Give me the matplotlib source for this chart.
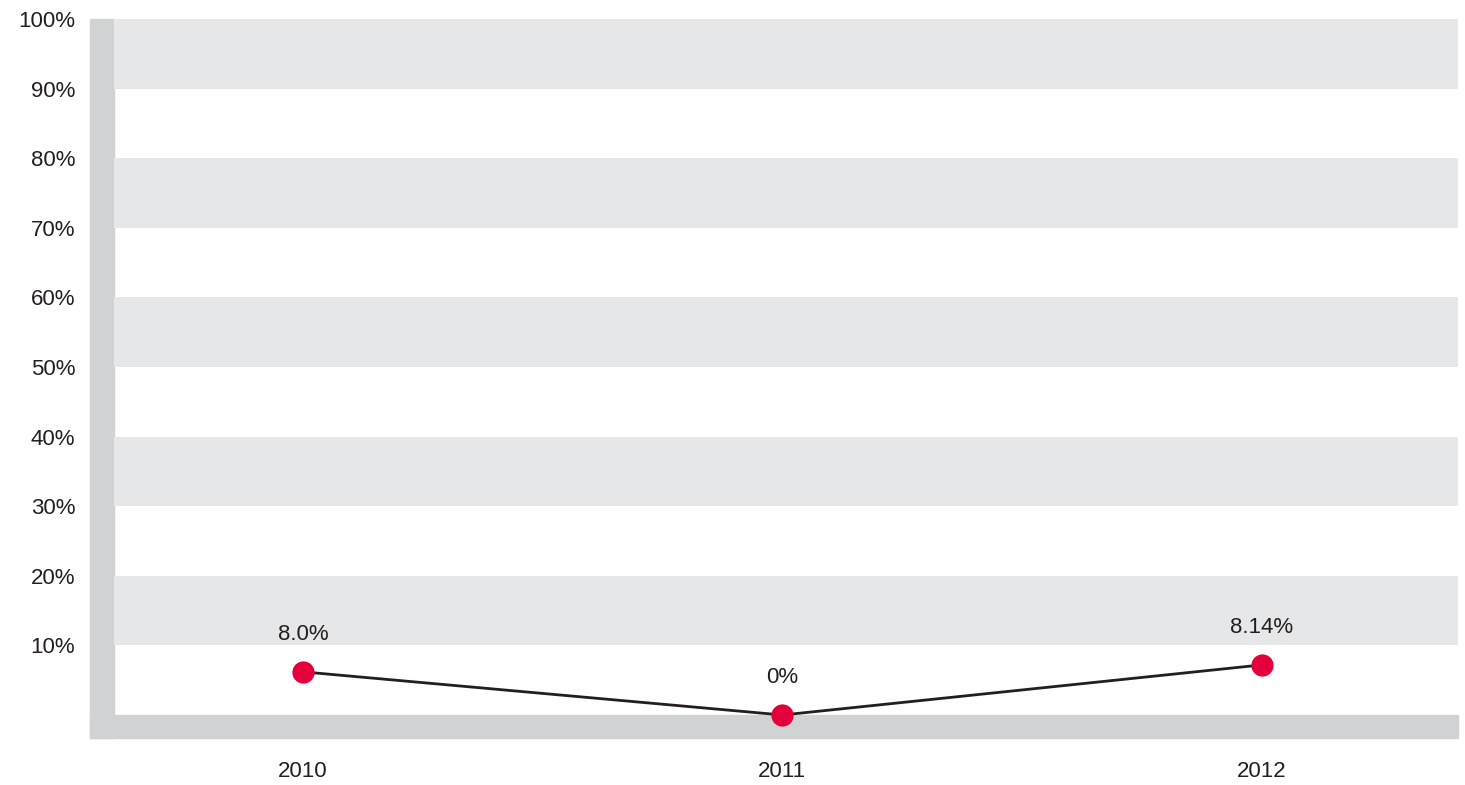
import matplotlib.pyplot as plt
from matplotlib.patches import Rectangle

years = ['2010', '2011', '2012']
values = [6.2, 0.0, 7.2]
value_labels = ['8.0%', '0%', '8.14%']
y_ticks = [10, 20, 30, 40, 50, 60, 70, 80, 90, 100]
y_tick_labels = ['10%', '20%', '30%', '40%', '50%', '60%', '70%', '80%', '90%', '100%']

plt.rcParams['font.family'] = ['Liberation Sans', 'DejaVu Sans']
text_col = '#231f20'
band_col = '#e6e7e8'
frame_col = '#d1d2d4'

W, H = 1465, 785
fig = plt.figure(figsize=(W / 100, H / 100), dpi=100)

# axes area in pixels
x0, x1 = 114, 1458
y_top, y_bot = 19, 715
ax = fig.add_axes([x0 / W, (H - y_bot) / H, (x1 - x0) / W, (y_bot - y_top) / H])
ax.set_zorder(2)

# gray frame on the left and bottom
fig.patches.append(Rectangle((90 / W, (H - 738) / H), 24 / W, (738 - 19) / H,
                             transform=fig.transFigure, color=frame_col, zorder=-1))
fig.patches.append(Rectangle((90 / W, (H - 738) / H), (1458 - 90) / W, 23 / H,
                             transform=fig.transFigure, color=frame_col, zorder=-1))

# alternating bands
for lo in range(0, 100, 20):
    ax.axhspan(lo + 10, lo + 20, color=band_col, lw=0, zorder=0)

x = list(range(len(years)))
ax.plot(x, values, color=text_col, lw=2, zorder=3, clip_on=False)
ax.plot(x, values, 'o', color='#e4003a', ms=16, mew=0, zorder=4, clip_on=False)
for xi, v, lab in zip(x, values, value_labels):
    ax.annotate(lab, (xi, v), xytext=(0, 27), textcoords='offset points',
                ha='center', va='center', fontsize=16, color=text_col)

ax.set_xlim(-0.394, 2.409)
ax.set_ylim(0, 100)
ax.set_xticks(x)
ax.set_xticklabels(years)
ax.set_yticks(y_ticks)
ax.set_yticklabels(y_tick_labels)
ax.tick_params(length=0, labelsize=16, colors=text_col)
ax.tick_params(axis='y', pad=28)
ax.tick_params(axis='x', pad=33)
for s in ax.spines.values():
    s.set_visible(False)
ax.set_facecolor('none')

fig.savefig('out.png', dpi=100)
